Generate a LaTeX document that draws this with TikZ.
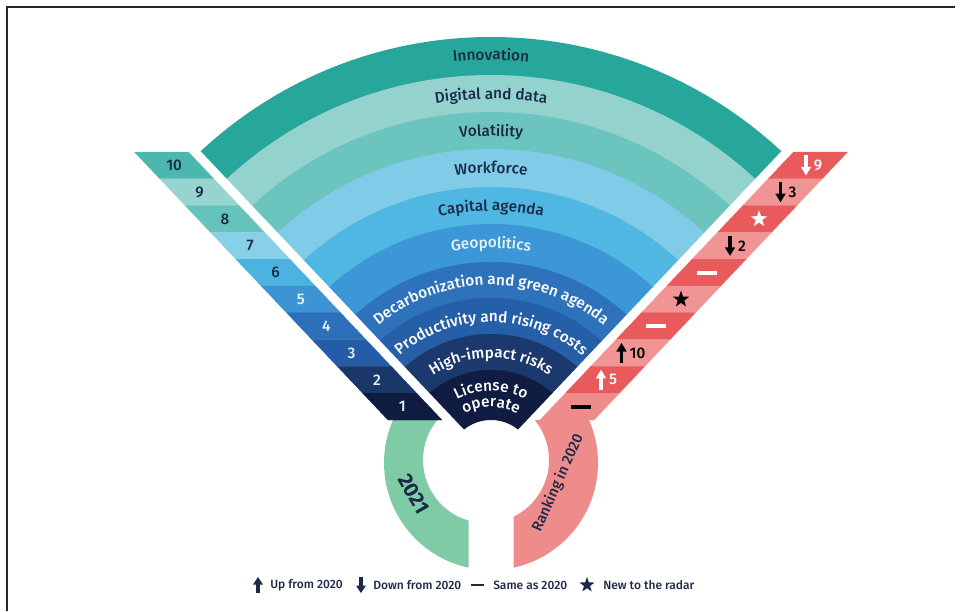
\documentclass[tikz,border=0pt]{standalone}
\usepackage{fontspec}
\setmainfont{Fira Sans}
\IfFontExistsTF{Fira Sans Medium}{\newfontfamily\medfont{Fira Sans Medium}}{\newfontfamily\medfont{Fira Sans}}
\usetikzlibrary{decorations.text,shapes.geometric}
\definecolor{cInno}{HTML}{27A79B}
\definecolor{cDig}{HTML}{93D2CD}
\definecolor{cVol}{HTML}{6CC4BE}
\definecolor{cWork}{HTML}{80CCE8}
\definecolor{cCap}{HTML}{50B7E2}
\definecolor{cGeo}{HTML}{3B97D5}
\definecolor{cDec}{HTML}{2D72BA}
\definecolor{cProd}{HTML}{245FA8}
\definecolor{cHigh}{HTML}{1B396C}
\definecolor{cLic}{HTML}{101C41}
\definecolor{sA}{HTML}{4BB7AE}
\definecolor{sB}{HTML}{98D4CF}
\definecolor{sC}{HTML}{66C3BC}
\definecolor{sD}{HTML}{88CFE8}
\definecolor{sE}{HTML}{4CB3E0}
\definecolor{sF}{HTML}{3D93D3}
\definecolor{sG}{HTML}{2D70BA}
\definecolor{sH}{HTML}{255CA8}
\definecolor{sI}{HTML}{1B376A}
\definecolor{sJ}{HTML}{101B40}
\definecolor{cRed}{HTML}{E95A5C}
\definecolor{cPink}{HTML}{F09494}
\definecolor{cRing}{HTML}{EE8C8C}
\definecolor{cGreen}{HTML}{7FCBA6}
\definecolor{cNavy}{HTML}{1C2A48}
\definecolor{cLight}{HTML}{E6F2FA}
\newcommand\bandfont{\medfont\fontsize{11.5}{13}\selectfont}
\newcommand\numfont{\medfont\fontsize{11.5}{13}\selectfont}
\newcommand\legfont{\medfont\fontsize{9}{11}\selectfont}
\newcommand\arclabel[3]{\path[decorate,decoration={text along path,text align=center,text={|\bandfont\color{#2}|#3}}] (135:#1) arc[start angle=135,end angle=45,radius=#1];}
\tikzset{
  arrowup/.pic={\fill (-1.7,-10) rectangle (1.7,2); \fill (-5.2,1.5) -- (5.2,1.5) -- (0,10) -- cycle;},
  arrowdown/.pic={\fill (-1.7,10) rectangle (1.7,-2); \fill (-5.2,-1.5) -- (5.2,-1.5) -- (0,-10) -- cycle;},
  legup/.pic={\fill (-1.9,-8) rectangle (1.9,1); \fill (-5,0.5) -- (5,0.5) -- (0,8) -- cycle;},
  legdown/.pic={\fill (-1.9,8) rectangle (1.9,-1); \fill (-5,-0.5) -- (5,-0.5) -- (0,-8) -- cycle;},
  dashbar/.pic={\fill (-10,-2) rectangle (10,2);},
  starmark/.style={star, star points=5, star point ratio=2.5, minimum size=13pt, inner sep=0pt, fill},
  numlab/.style={font=\numfont, inner sep=0pt},
  leglab/.style={font=\legfont, text=cNavy, anchor=west, inner sep=0pt},
}
\begin{document}
\begin{tikzpicture}[x=0.75pt,y=0.75pt]
\useasboundingbox (-491,-148) rectangle (471,463);
% frame
\draw[line width=0.8pt,black!85] (-484,-148) -- (-484,456) -- (464,456);
% ring
\begin{scope}
  \clip (-200,43) rectangle (-22.5,-200);
  \fill[cGreen,even odd rule] (0,0) circle[radius=107] (-5,3) circle[radius=63];
\end{scope}
\begin{scope}
  \clip (22.5,43) rectangle (200,-200);
  \fill[cRing,even odd rule] (0,0) circle[radius=107] (-5,3) circle[radius=63];
\end{scope}
% left strip
\foreach \k/\c in {0/sA,1/sB,2/sC,3/sD,4/sE,5/sF,6/sG,7/sH,8/sI,9/sJ}{
  \pgfmathsetmacro\yt{311-26.8*\k}
  \pgfmathsetmacro\yb{\yt-26.8}
  \pgfmathsetmacro\xt{-49-0.946*(\yt-43)}
  \pgfmathsetmacro\xb{-49-0.946*(\yb-43)}
  \fill[\c,draw=\c,line width=0.2pt] ({\xt-54},\yt) -- (\xt,\yt) -- (\xb,\yb) -- ({\xb-54},\yb) -- cycle;
}
% right strip
\foreach \k/\c in {0/cRed,1/cPink,2/cRed,3/cPink,4/cRed,5/cPink,6/cRed,7/cPink,8/cRed,9/cRing}{
  \pgfmathsetmacro\yt{311-26.8*\k}
  \pgfmathsetmacro\yb{\yt-26.8}
  \pgfmathsetmacro\xt{49+0.946*(\yt-43)}
  \pgfmathsetmacro\xb{49+0.946*(\yb-43)}
  \fill[\c,draw=\c,line width=0.2pt] ({\xt+54},\yt) -- (\xt,\yt) -- (\xb,\yb) -- ({\xb+54},\yb) -- cycle;
}
% fan
\begin{scope}
  \clip (0,4.95) -- ({-36-0.946*(500-43)},500) -- ({36+0.946*(500-43)},500) -- cycle;
  \foreach \ro/\ri/\c in {426/387.4/cInno,388/350.4/cDig,351/313.4/cVol,314/275.4/cWork,276/238.4/cCap,239/200.4/cGeo,201/164.4/cDec,165/128.4/cProd,129/92.4/cHigh,93/43/cLic}{
    \fill[\c,even odd rule] (0,0) circle[radius=\ro] (0,0) circle[radius=\ri];
  }
\end{scope}
% band labels
\arclabel{403}{cNavy}{Innovation}
\arclabel{364}{cNavy}{Digital and data}
\arclabel{327}{cNavy}{Volatility}
\arclabel{290}{cNavy}{Workforce}
\arclabel{252}{cNavy}{Capital agenda}
\arclabel{215}{cLight}{Geopolitics}
\arclabel{178}{white}{Decarbonization and green agenda}
\arclabel{141}{white}{Productivity and rising costs}
\arclabel{105}{white}{High-impact risks}
\arclabel{72}{white}{License to}
\arclabel{56}{white}{operate}
% left numbers
\foreach \k/\n/\tc in {0/10/cNavy,1/9/cNavy,2/8/cNavy,3/7/cNavy,4/6/cNavy,5/5/cLight,6/4/cLight,7/3/cLight,8/2/cLight,9/1/cLight}{
  \pgfmathsetmacro\yc{311-26.8*(\k+0.5)}
  \pgfmathsetmacro\xc{-49-0.946*(\yc-43)-27}
  \node[numlab,text=\tc] (L\n) at (\xc,\yc) {\n};
}
% right symbols
\pic[white] at (315,297.6) {arrowdown};
\node[numlab,text=white] (R0) at (327,297.6) {9};
\pic[black] at (289.5,270.8) {arrowdown};
\node[numlab,text=black] (R1) at (301.5,270.8) {3};
\node[starmark,white] (R2) at (268,244) {};
\pic[black] at (239,217.2) {arrowdown};
\node[numlab,text=black] (R3) at (251,217.2) {2};
\pic[white] at (215.5,190.4) {dashbar};
\node[starmark,black] (R5) at (190,163.6) {};
\pic[white] at (164.8,136.8) {dashbar};
\pic[black] at (130.5,110) {arrowup};
\node[numlab,text=black] (R7) at (146.5,110) {10};
\pic[white] at (110,83.2) {arrowup};
\node[numlab,text=white] (R8) at (122,83.2) {5};
\pic[black] at (90,56.4) {dashbar};
% ring labels
\node[font=\fontsize{15.5}{18}\selectfont\bfseries,text=cNavy,rotate=-60] (y2021) at (-77,-31) {2021};
\node[font=\medfont\fontsize{11}{13}\selectfont,text=cNavy,rotate=66] (rank) at (67,-20) {Ranking in 2020};
% legend
\pic[cNavy] at (-233,-122) {legup};
\node[leglab] (lg1) at (-221,-122) {Up from 2020};
\pic[cNavy] at (-130,-122) {legdown};
\node[leglab] (lg2) at (-118,-122) {Down from 2020};
\pic[cNavy,scale=0.65] at (-13.5,-122) {dashbar};
\node[leglab] (lg3) at (2,-122) {Same as 2020};
\node[starmark,cNavy,minimum size=12pt] (lgs) at (96,-122) {};
\node[leglab] (lg4) at (112,-122) {New to the radar};
\end{tikzpicture}
\end{document}
